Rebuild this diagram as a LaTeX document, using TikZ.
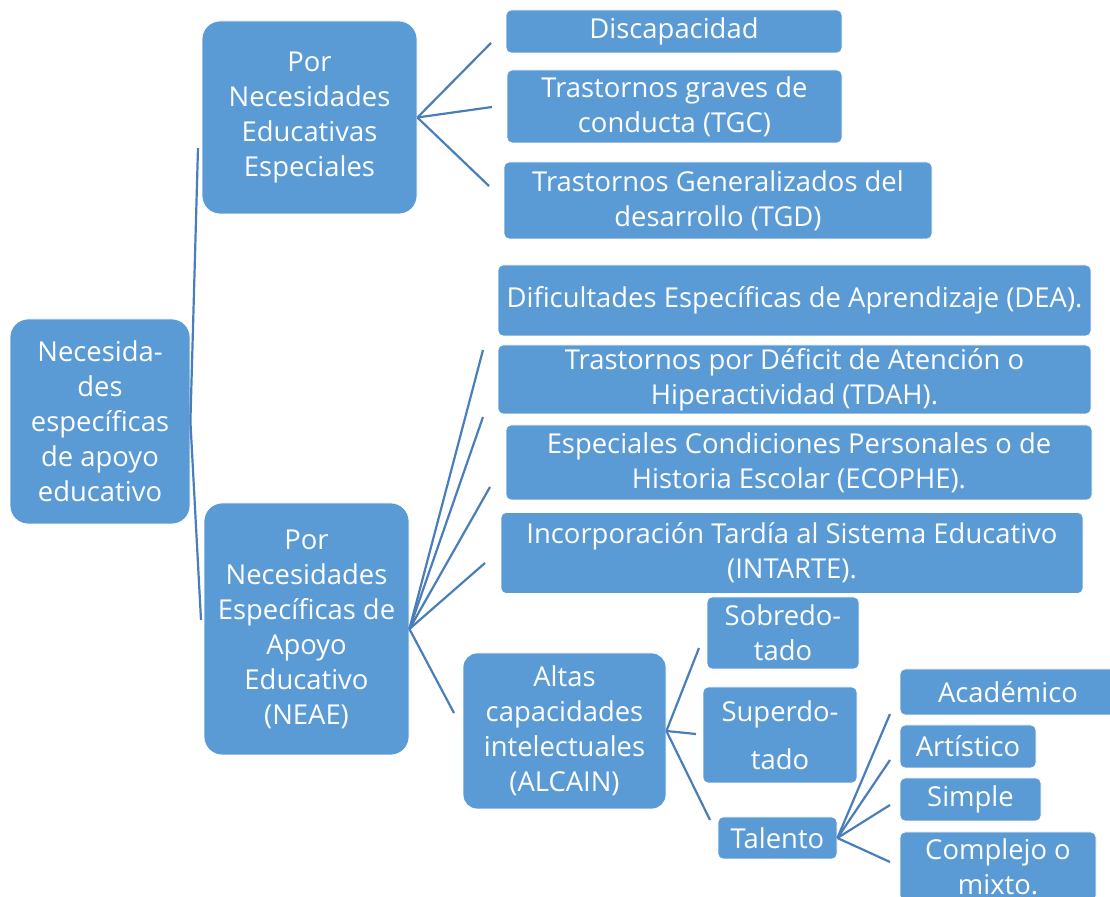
\documentclass[tikz,border=0pt]{standalone}
\usepackage{fontspec}
\setmainfont{Open Sans}
\definecolor{boxblue}{HTML}{5B9BD5}
\definecolor{lineblue}{HTML}{4A7EBB}
\begin{document}
\begin{tikzpicture}[x=0.5pt, y=-0.5pt,
  main/.style = {draw=white, line width=0.4pt, fill=boxblue, text=white, align=center, rounded corners=9pt, inner sep=0pt, font=\fontsize{13.7}{17.5}\selectfont},
  leaf/.style = {main, rounded corners=2.5pt},
  link/.style = {draw=lineblue, line width=1.1pt}]
\useasboundingbox (0,0) rectangle (1110,897);

\node[main, minimum width=90pt, minimum height=102.5pt] (root) at (100,421.5) {Necesida-\\des\\específicas\\de apoyo\\educativo};
\node[main, minimum width=107.5pt, minimum height=96.5pt] (nee) at (309.5,117.5) {Por\\Necesidades\\Educativas\\Especiales};
\node[main, minimum width=102.5pt, minimum height=126pt] (neae) at (306.5,629) {Por\\Necesidades\\Específicas de\\Apoyo\\Educativo\\(NEAE)};

\node[leaf, minimum width=168pt, minimum height=21.5pt] (disc) at (674,31.5) {Discapacidad};
\node[leaf, minimum width=167.5pt, minimum height=36.5pt] (tgc) at (674.5,106.5) {Trastornos graves de\\conducta (TGC)};
\node[leaf, minimum width=214pt, minimum height=38.5pt] (tgd) at (718,200.5) {Trastornos Generalizados del\\desarrollo (TGD)};

\node[leaf, minimum width=296.5pt, minimum height=35.5pt] (dea) at (794.5,300.5) {Dificultades Específicas de Aprendizaje (DEA).};
\node[leaf, minimum width=296.5pt, minimum height=34.5pt] (tdah) at (794.5,379.5) {Trastornos por Déficit de Atención o\\Hiperactividad (TDAH).};
\node[leaf, minimum width=293pt, minimum height=37.5pt] (ecophe) at (799,462.5) {Especiales Condiciones Personales o de\\Historia Escolar (ECOPHE).};
\node[leaf, minimum width=291pt, minimum height=40.5pt] (intarte) at (792,553) {Incorporación Tardía al Sistema Educativo\\(INTARTE).};
\node[main, rounded corners=7pt, minimum width=101.5pt, minimum height=78pt] (alcain) at (564.5,731) {Altas\\capacidades\\intelectuales\\(ALCAIN)};

\node[leaf, minimum width=76pt, minimum height=36pt] (sobre) at (783,633) {Sobredo-\\tado};
\node[leaf, minimum width=77pt, minimum height=48pt] (super) at (780,735) {Superdo-\\[6.5pt]tado};
\node[leaf, minimum width=59.5pt, minimum height=21pt] (talento) at (777.5,838) {Talento};

\node[leaf, minimum width=108pt, minimum height=23pt] (acad) at (1008,692) {Académico};
\node[leaf, minimum width=68pt, minimum height=21.5pt] (artis) at (968,746.5) {Artístico};
\node[leaf, minimum width=70.5pt, minimum height=21.5pt] (simple) at (970.5,799.5) {Simple};
\node[leaf, minimum width=98pt, minimum height=34.5pt] (complejo) at (998,866.5) {Complejo o\\mixto.};

\coordinate (r1) at (198,148);
\coordinate (r2) at (201,620);
\coordinate (a1) at (491,43);
\coordinate (a2) at (492,107);
\coordinate (a3) at (489,186);
\coordinate (b1) at (483,350);
\coordinate (b2) at (483,417);
\coordinate (b3) at (490,487);
\coordinate (b4) at (485,563);
\coordinate (b5) at (454,713);
\coordinate (c1) at (699,648);
\coordinate (c2) at (696,734);
\coordinate (c3) at (710,820);
\coordinate (t1) at (890,714);
\coordinate (t2) at (890,760);
\coordinate (t3) at (890,805);
\coordinate (t4) at (890,862);

\draw[link] (r1) -- (root.east) -- (r2);
\draw[link] (nee.east) -- (a1);
\draw[link] (nee.east) -- (a2);
\draw[link] (nee.east) -- (a3);
\draw[link] (neae.east) -- (b1);
\draw[link] (neae.east) -- (b2);
\draw[link] (neae.east) -- (b3);
\draw[link] (neae.east) -- (b4);
\draw[link] (neae.east) -- (b5);
\draw[link] (alcain.east) -- (c1);
\draw[link] (alcain.east) -- (c2);
\draw[link] (alcain.east) -- (c3);
\draw[link] (talento.east) -- (t1);
\draw[link] (talento.east) -- (t2);
\draw[link] (talento.east) -- (t3);
\draw[link] (talento.east) -- (t4);

\end{tikzpicture}
\end{document}
